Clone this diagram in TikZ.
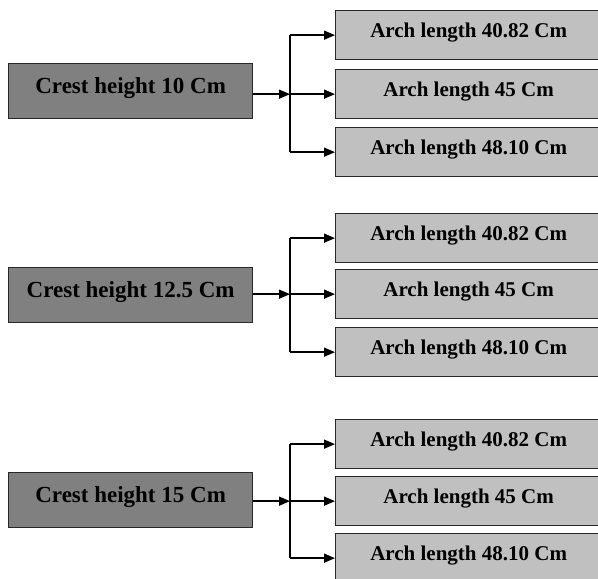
\documentclass[tikz,border=0pt]{standalone}
\usepackage{fontspec}
\setmainfont{Liberation Serif}
\usetikzlibrary{arrows.meta}
\definecolor{darkfill}{RGB}{128,128,128}
\definecolor{lightfill}{RGB}{192,192,192}
\definecolor{edge}{RGB}{40,40,40}
\begin{document}
\begin{tikzpicture}[x=1pt,y=-1pt,
  crest/.style={draw=edge, line width=1.3pt, fill=darkfill, anchor=north west,
    minimum width=244pt, minimum height=55pt, inner sep=0pt,
    text height=29.5pt, text depth=25.5pt, font=\fontsize{23}{23}\selectfont\bfseries},
  arch/.style={draw=edge, line width=1.3pt, fill=lightfill, anchor=north west,
    minimum width=266pt, minimum height=49pt, inner sep=0pt,
    text height=27pt, text depth=22pt, font=\fontsize{21}{21}\selectfont\bfseries},
  link/.style={line width=1.5pt, black},
  arr/.style={link, -{Triangle[length=11pt,width=9pt]}}]
\clip (0,0) rectangle (598,579);
\fill[white] (0,0) rectangle (598,579);
\coordinate (X) at (290,0);
% group 1
\node[crest] (L1) at (8,63) {Crest height 10 Cm};
\node[arch] (R11) at (335,10) {Arch length 40.82 Cm};
\node[arch] (R12) at (335,69) {Arch length 45 Cm};
\node[arch] (R13) at (335,127) {Arch length 48.10 Cm};
% group 2
\node[crest] (L2) at (8,267) {Crest height 12.5 Cm};
\node[arch] (R21) at (335,213) {Arch length 40.82 Cm};
\node[arch] (R22) at (335,269) {Arch length 45 Cm};
\node[arch] (R23) at (335,327) {Arch length 48.10 Cm};
% group 3
\node[crest] (L3) at (8,472) {Crest height 15 Cm};
\node[arch] (R31) at (335,419) {Arch length 40.82 Cm};
\node[arch] (R32) at (335,476) {Arch length 45 Cm};
\node[arch] (R33) at (335,533) {Arch length 48.10 Cm};
% connectors
\foreach \g in {1,2,3}{
  \draw[link] (R\g1.west -| X) -- (R\g3.west -| X);
  \draw[arr] (L\g.east |- R\g2.west) -- (R\g2.west -| X);
  \foreach \k in {1,2,3}{
    \draw[arr] (R\g\k.west -| X) -- (R\g\k.west);
  }
}
\end{tikzpicture}
\end{document}
